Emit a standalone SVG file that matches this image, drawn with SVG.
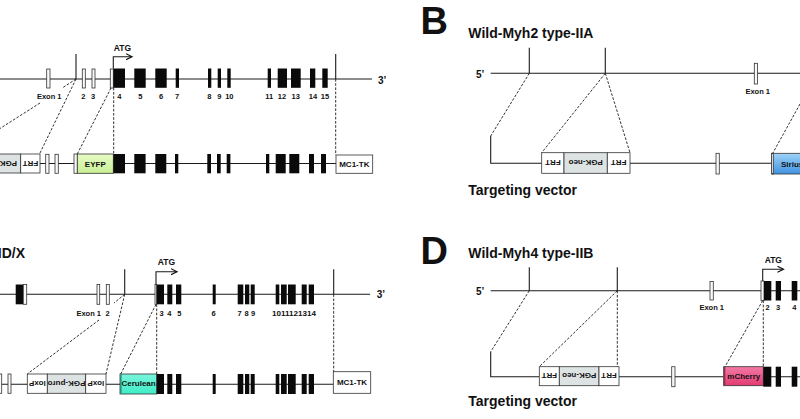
<svg xmlns="http://www.w3.org/2000/svg" width="800" height="419" viewBox="0 0 800 419">
<style>
.ln{stroke:#1a1a1a;stroke-width:1.1;fill:none}
.ds{stroke:#1a1a1a;stroke-width:0.9;stroke-dasharray:2.6 1.6;fill:none}
.ex{fill:#0a0a0a}
.ox{fill:#fbf8f8;stroke:#333;stroke-width:0.8}
.bx{fill:#fff;stroke:#333;stroke-width:0.8}
.gy{fill:#dde2e3;stroke:#333;stroke-width:0.8}
.t{font-family:"Liberation Sans",Arial,sans-serif;font-weight:bold;fill:#111}
.big{font-size:38px}
.ttl{font-size:14px}
.lb{font-size:7.5px;text-anchor:middle}
.bt{font-size:8px;text-anchor:middle}
.end{font-size:10px}
</style>
<defs>
<marker id="arr" markerWidth="8" markerHeight="8" refX="6" refY="3.5" orient="auto" markerUnits="userSpaceOnUse">
<path d="M0.5,0.5 L6.5,3.5 L0.5,6.5" fill="none" stroke="#111" stroke-width="1.2"/>
</marker>
<linearGradient id="gEYFP" x1="0" y1="0" x2="0" y2="1"><stop offset="0" stop-color="#e6fbc4"/><stop offset="1" stop-color="#c9ef96"/></linearGradient>
<linearGradient id="gCer" x1="0" y1="0" x2="0" y2="1"><stop offset="0" stop-color="#7af5dc"/><stop offset="1" stop-color="#3eecc6"/></linearGradient>
<linearGradient id="gSir" x1="0" y1="0" x2="0" y2="1"><stop offset="0" stop-color="#9fd3f7"/><stop offset="1" stop-color="#3f93e2"/></linearGradient>
<linearGradient id="gChe" x1="0" y1="0" x2="0" y2="1"><stop offset="0" stop-color="#f27aa4"/><stop offset="1" stop-color="#e23a72"/></linearGradient>
</defs>

<!-- ===== Panel A (left top) ===== -->
<g id="panelA">
<g id="A-wild">
<line class="ln" x1="0" y1="79" x2="372" y2="79"/>
<line class="ln" x1="76" y1="54" x2="76" y2="79"/>
<line class="ln" x1="335.7" y1="54" x2="335.7" y2="79"/>
<text class="t end" x="378" y="83.5">3’</text>
<rect class="ox" x="46.7" y="69" width="3.3" height="19"/>
<rect class="ox" x="82.3" y="69" width="3" height="19"/>
<rect class="ox" x="92" y="69" width="3" height="19"/>
<rect class="ox" x="110.3" y="69" width="3" height="19"/>
<rect class="ex" x="113.3" y="68.5" width="11.7" height="19.3"/>
<rect class="ex" x="134.3" y="68.5" width="11.4" height="19.3"/>
<rect class="ex" x="155.3" y="68.5" width="11.4" height="19.3"/>
<rect class="ex" x="175.7" y="68.5" width="3.3" height="19.3"/>
<rect class="ex" x="208" y="68.5" width="3.3" height="19.3"/>
<rect class="ex" x="217.7" y="68.5" width="3.3" height="19.3"/>
<rect class="ex" x="227.3" y="68.5" width="3.4" height="19.3"/>
<rect class="ex" x="267.7" y="68.5" width="3.3" height="19.3"/>
<rect class="ex" x="277.7" y="68.5" width="9.3" height="19.3"/>
<rect class="ex" x="291" y="68.5" width="9.7" height="19.3"/>
<rect class="ex" x="310" y="68.5" width="5.3" height="19.3"/>
<rect class="ex" x="322.3" y="68.5" width="5.4" height="19.3"/>
<path class="ln" d="M113.3,68.5 V56.7 H131.5" marker-end="url(#arr)"/>
<text class="t" x="122.5" y="50.5" font-size="8.5" text-anchor="middle">ATG</text>
<text class="t lb" x="49.2" y="98.5">Exon 1</text>
<text class="t lb" x="83.3" y="98.5">2</text>
<text class="t lb" x="93" y="98.5">3</text>
<text class="t lb" x="119.3" y="98.5">4</text>
<text class="t lb" x="140.3" y="98.5">5</text>
<text class="t lb" x="161" y="98.5">6</text>
<text class="t lb" x="177" y="98.5">7</text>
<text class="t lb" x="209.3" y="98.5">8</text>
<text class="t lb" x="219.3" y="98.5">9</text>
<text class="t lb" x="229.3" y="98.5">10</text>
<text class="t lb" x="269.3" y="98.5">11</text>
<text class="t lb" x="282" y="98.5">12</text>
<text class="t lb" x="295.7" y="98.5">13</text>
<text class="t lb" x="313" y="98.5">14</text>
<text class="t lb" x="325" y="98.5">15</text>
</g>
<g id="A-vector">
<line class="ln" x1="0" y1="163.5" x2="336" y2="163.5"/>
<rect class="gy" x="-20" y="154" width="40.7" height="19"/>
<text class="t bt" x="0" y="166.4" font-size="8.5" transform="rotate(180 0 163.5)">PGK-neo</text>
<rect class="bx" x="20.7" y="154" width="19.3" height="19"/>
<text class="t bt" x="30.35" y="166.4" transform="rotate(180 30.35 163.5)">FRT</text>
<rect class="ox" x="45.7" y="154.3" width="3.3" height="19"/>
<rect class="ox" x="55" y="154.3" width="3.3" height="19"/>
<rect class="ox" x="74" y="154" width="3.3" height="19.3"/>
<rect x="77.3" y="154" width="36" height="19.3" fill="url(#gEYFP)" stroke="#333" stroke-width="0.8"/>
<text class="t bt" x="95.3" y="166.7" font-size="7.7">EYFP</text>
<rect class="ex" x="113.3" y="154" width="11.7" height="19.3"/>
<rect class="ex" x="134.3" y="154" width="11.3" height="19.3"/>
<rect class="ex" x="155.3" y="154" width="11" height="19.3"/>
<rect class="ex" x="175" y="154" width="3.3" height="19.3"/>
<rect class="ex" x="207.3" y="154" width="3.7" height="19.3"/>
<rect class="ex" x="217" y="154" width="3.7" height="19.3"/>
<rect class="ex" x="226.7" y="154" width="3.7" height="19.3"/>
<rect class="ex" x="266" y="154" width="3.3" height="19.3"/>
<rect class="ex" x="275.7" y="154" width="10" height="19.3"/>
<rect class="ex" x="289.3" y="154" width="10" height="19.3"/>
<rect class="ex" x="309" y="154" width="5" height="19.3"/>
<rect class="ex" x="321" y="154" width="5" height="19.3"/>
<rect class="bx" x="336" y="155" width="36.7" height="18.3"/>
<text class="t bt" x="354.3" y="167" font-size="7.5">MC1-TK</text>
</g>
<g id="A-connectors">
<line class="ds" x1="76" y1="79" x2="63" y2="87.5"/>
<line class="ds" x1="40" y1="103" x2="0" y2="128.5"/>
<line class="ds" x1="76" y1="79" x2="39.5" y2="154"/>
<line class="ds" x1="111" y1="88" x2="77.3" y2="154"/>
<line class="ds" x1="113.7" y1="87.8" x2="113.7" y2="154"/>
<line class="ds" x1="335.7" y1="79" x2="335.7" y2="155"/>
</g>
</g>

<!-- ===== Panel B (right top) ===== -->
<g id="panelB">
<text class="t big" x="420.5" y="33.5">B</text>
<text class="t ttl" x="468.3" y="38.3">Wild-Myh2 type-IIA</text>
<g id="B-wild">
<text class="t end" x="476" y="77.5">5’</text>
<line class="ln" x1="490.7" y1="73.3" x2="800" y2="73.3"/>
<line class="ln" x1="529.3" y1="47.7" x2="529.3" y2="73.3"/>
<line class="ln" x1="605.3" y1="47.7" x2="605.3" y2="73.3"/>
<rect class="ox" x="754.3" y="63.3" width="3.3" height="20.7"/>
<text class="t lb" x="757.7" y="94.3">Exon 1</text>
</g>
<g id="B-vector">
<path class="ln" d="M490.7,136 V163.3 H541.7"/>
<line class="ln" x1="630" y1="163.3" x2="771.7" y2="163.3"/>
<rect class="bx" x="541.7" y="152.7" width="22.3" height="20.6"/>
<text class="t bt" x="552.85" y="165.9" transform="rotate(180 552.85 163)">FRT</text>
<rect class="gy" x="564" y="152.7" width="43.3" height="20.6"/>
<text class="t bt" x="585.65" y="165.9" font-size="8.5" transform="rotate(180 585.65 163)">PGK-neo</text>
<rect class="bx" x="607.3" y="152.7" width="22.7" height="20.6"/>
<text class="t bt" x="618.65" y="165.9" transform="rotate(180 618.65 163)">FRT</text>
<rect class="ox" x="716" y="153.3" width="3.3" height="20.7"/>
<rect x="771.7" y="153.3" width="40" height="20.7" fill="url(#gSir)" stroke="#333" stroke-width="0.8"/>
<rect class="ox" x="771.7" y="153.3" width="1.6" height="20.7"/>
<text class="t" x="781" y="166.8" font-size="8">Sirius</text>
</g>
<g id="B-connectors">
<line class="ds" x1="529.3" y1="73.3" x2="490.7" y2="136"/>
<line class="ds" x1="605.3" y1="73.3" x2="541.7" y2="152.7"/>
<line class="ds" x1="605.3" y1="73.3" x2="630" y2="152.7"/>
<line class="ds" x1="800" y1="104" x2="772.7" y2="153.3"/>
</g>
<text class="t ttl" x="468.3" y="195">Targeting vector</text>
</g>

<!-- ===== Panel C (left bottom) ===== -->
<g id="panelC">
<text class="t ttl" x="25" y="258.3" text-anchor="end">Wild-Myh1 type-IID/X</text>
<g id="C-wild">
<line class="ln" x1="0" y1="294.3" x2="370" y2="294.3"/>
<line class="ln" x1="124.7" y1="269.3" x2="124.7" y2="294.3"/>
<line class="ln" x1="333.7" y1="269.3" x2="333.7" y2="294.3"/>
<text class="t end" x="376.7" y="298">3’</text>
<rect class="ex" x="15.7" y="284.5" width="7.6" height="19.8"/>
<rect class="ox" x="23.3" y="284.5" width="3.4" height="19.8"/>
<rect class="ox" x="97" y="284.5" width="2.7" height="19.8"/>
<rect class="ox" x="106.3" y="284.5" width="3" height="19.8"/>
<rect class="ox" x="155" y="284.5" width="1.7" height="19.8"/>
<rect class="ex" x="156.7" y="284.5" width="7.3" height="19.8"/>
<rect class="ex" x="167.3" y="284.5" width="5" height="19.8"/>
<rect class="ex" x="176" y="284.5" width="5.3" height="19.8"/>
<rect class="ex" x="212.7" y="284.5" width="3" height="19.8"/>
<rect class="ex" x="237.7" y="284.5" width="5.6" height="19.8"/>
<rect class="ex" x="245" y="284.5" width="4.3" height="19.8"/>
<rect class="ex" x="250.7" y="284.5" width="4" height="19.8"/>
<rect class="ex" x="275.7" y="284.5" width="3.6" height="19.8"/>
<rect class="ex" x="281" y="284.5" width="5.7" height="19.8"/>
<rect class="ex" x="288" y="284.5" width="7.7" height="19.8"/>
<rect class="ex" x="301.7" y="284.5" width="5" height="19.8"/>
<rect class="ex" x="308.7" y="284.5" width="5.3" height="19.8"/>
<path class="ln" d="M156,284.5 V271.7 H176.5" marker-end="url(#arr)"/>
<text class="t" x="166.5" y="265" font-size="8.5" text-anchor="middle">ATG</text>
<text class="t" x="101" y="315.5" font-size="7.5" text-anchor="end">Exon 1</text>
<text class="t lb" x="107.7" y="315.5">2</text>
<text class="t lb" x="161.7" y="315.5">3</text>
<text class="t lb" x="169.3" y="315.5">4</text>
<text class="t lb" x="179.3" y="315.5">5</text>
<text class="t lb" x="213.7" y="315.5">6</text>
<text class="t lb" x="239.7" y="315.5">7</text>
<text class="t lb" x="246.5" y="315.5">8</text>
<text class="t lb" x="253" y="315.5">9</text>
<text class="t lb" x="294" y="315.5" textLength="44" lengthAdjust="spacingAndGlyphs">1011121314</text>
</g>
<g id="C-vector">
<line class="ln" x1="0" y1="384.3" x2="333.3" y2="384.3"/>
<rect class="ox" x="-2" y="374" width="3.7" height="19.3"/>
<rect class="ox" x="8" y="374" width="3" height="19.3"/>
<rect class="bx" x="27.3" y="374" width="20" height="19.3"/>
<text class="t bt" x="37.3" y="386.5" font-size="7.5" transform="rotate(180 37.3 383.7)">loxP</text>
<rect class="gy" x="47.3" y="374" width="38.4" height="19.3"/>
<text class="t bt" x="66.5" y="386.3" font-size="7" transform="rotate(180 66.5 383.7)">PGK-puro</text>
<rect class="bx" x="85.7" y="374" width="20.3" height="19.3"/>
<text class="t bt" x="95.85" y="386.5" font-size="7.5" transform="rotate(180 95.85 383.7)">loxP</text>
<rect x="120" y="374" width="36.7" height="20" fill="url(#gCer)" stroke="#333" stroke-width="0.8"/>
<rect x="120" y="374" width="1.6" height="20" fill="#2a8f80"/>
<text class="t bt" x="138.6" y="386.3" font-size="6.3">Cerulean</text>
<rect class="ex" x="156.7" y="374" width="7.3" height="20"/>
<rect class="ex" x="167.3" y="374" width="5" height="20"/>
<rect class="ex" x="176" y="374" width="5.3" height="20"/>
<rect class="ex" x="212.7" y="374" width="3" height="20"/>
<rect class="ex" x="237.7" y="374" width="5.6" height="20"/>
<rect class="ex" x="245" y="374" width="4.3" height="20"/>
<rect class="ex" x="250.7" y="374" width="4" height="20"/>
<rect class="ex" x="275.7" y="374" width="3.6" height="20"/>
<rect class="ex" x="281" y="374" width="5.7" height="20"/>
<rect class="ex" x="288" y="374" width="7.7" height="20"/>
<rect class="ex" x="301.7" y="374" width="5" height="20"/>
<rect class="ex" x="308.7" y="374" width="5.3" height="20"/>
<rect class="bx" x="333.3" y="371.7" width="37.4" height="21.6"/>
<text class="t bt" x="352" y="385.3" font-size="7.7">MC1-TK</text>
</g>
<g id="C-connectors">
<line class="ds" x1="124.7" y1="294.3" x2="114" y2="303"/>
<line class="ds" x1="99" y1="320" x2="27.3" y2="374"/>
<line class="ds" x1="124.7" y1="294.3" x2="106" y2="374"/>
<line class="ds" x1="156" y1="304.3" x2="120.7" y2="374"/>
<line class="ds" x1="156.7" y1="304.3" x2="156.7" y2="374"/>
<line class="ds" x1="333.7" y1="294.3" x2="333.7" y2="371.7"/>
</g>
</g>

<!-- ===== Panel D (right bottom) ===== -->
<g id="panelD">
<text class="t big" x="420.5" y="264">D</text>
<text class="t ttl" x="468.3" y="258.3">Wild-Myh4 type-IIB</text>
<g id="D-wild">
<text class="t end" x="476" y="294.5">5’</text>
<line class="ln" x1="490.7" y1="290.7" x2="800" y2="290.7"/>
<line class="ln" x1="529.3" y1="267.3" x2="529.3" y2="290.7"/>
<line class="ln" x1="617.3" y1="267.3" x2="617.3" y2="290.7"/>
<rect class="ox" x="710" y="281.5" width="3.3" height="18.5"/>
<rect class="ox" x="761" y="281" width="3" height="19.5"/>
<rect class="ex" x="764" y="281" width="7.3" height="19.5"/>
<rect class="ex" x="775.7" y="281" width="5.3" height="19.5"/>
<rect class="ex" x="791.7" y="281" width="5.6" height="19.5"/>
<path class="ln" d="M762.7,281 V269.3 H783" marker-end="url(#arr)"/>
<text class="t" x="773.3" y="262.7" font-size="8.5" text-anchor="middle">ATG</text>
<text class="t lb" x="711.7" y="310">Exon 1</text>
<text class="t lb" x="767.5" y="310">2</text>
<text class="t lb" x="778" y="310">3</text>
<text class="t lb" x="794.3" y="310">4</text>
</g>
<g id="D-vector">
<path class="ln" d="M490.7,351.7 V376.7 H539.3"/>
<line class="ln" x1="619" y1="376.7" x2="723.7" y2="376.7"/>
<line class="ln" x1="763" y1="376.7" x2="800" y2="376.7"/>
<rect class="bx" x="539.3" y="366.7" width="20" height="19"/>
<text class="t bt" x="549.3" y="379.1" transform="rotate(180 549.3 376.2)">FRT</text>
<rect class="gy" x="559.3" y="366.7" width="39.7" height="19"/>
<text class="t bt" x="579.15" y="379.1" transform="rotate(180 579.15 376.2)">PGK-neo</text>
<rect class="bx" x="599" y="366.7" width="20" height="19"/>
<text class="t bt" x="609" y="379.1" transform="rotate(180 609 376.2)">FRT</text>
<rect class="ox" x="671.7" y="366.7" width="3.3" height="20"/>
<rect x="723.7" y="366.7" width="39.6" height="19" fill="url(#gChe)" stroke="#333" stroke-width="0.8"/>
<rect x="723.7" y="366.7" width="1.6" height="19" fill="#8a3050"/>
<text class="t bt" x="743.8" y="379.2" font-size="8.4" fill="#2a0a14">mCherry</text>
<rect class="ex" x="763.3" y="366.7" width="8" height="20"/>
<rect class="ex" x="775.7" y="366.7" width="5.3" height="20"/>
<rect class="ex" x="791.7" y="366.7" width="5.6" height="20"/>
</g>
<g id="D-connectors">
<line class="ds" x1="529.3" y1="290.7" x2="490.7" y2="351.7"/>
<line class="ds" x1="617.3" y1="290.7" x2="539.3" y2="366.7"/>
<line class="ds" x1="617.3" y1="290.7" x2="617.3" y2="366.7"/>
<line class="ds" x1="762.7" y1="300.5" x2="725" y2="366.7"/>
<line class="ds" x1="763.3" y1="300.5" x2="763.3" y2="366.7"/>
</g>
<text class="t ttl" x="468.3" y="406">Targeting vector</text>
</g>
</svg>
